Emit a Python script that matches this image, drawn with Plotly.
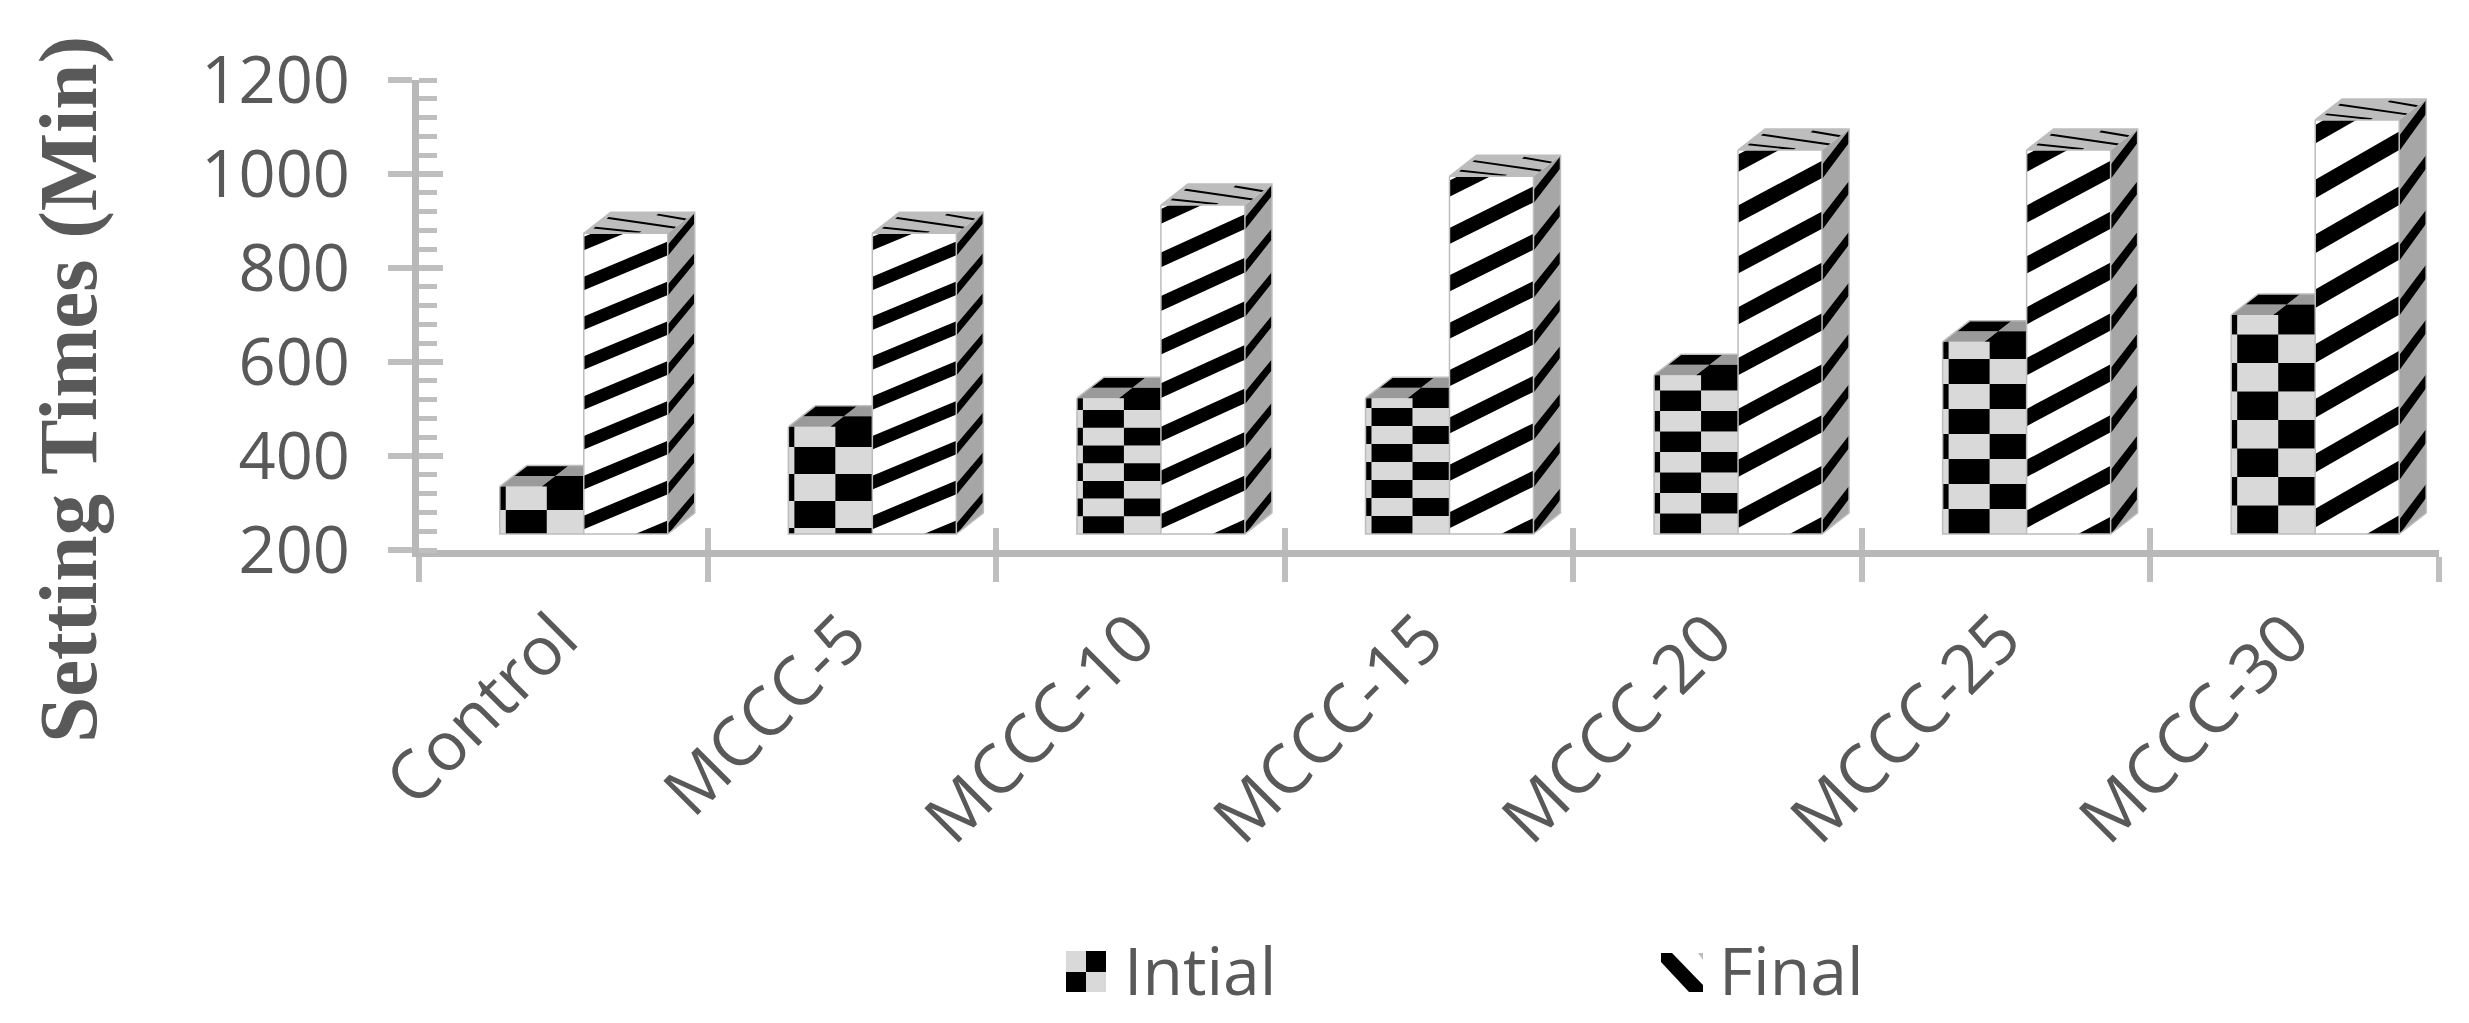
import plotly.graph_objects as go

# ---------- data ----------
categories = ["Control", "MCCC-5", "MCCC-10", "MCCC-15", "MCCC-20", "MCCC-25", "MCCC-30"]
initial_time = [335, 462, 523, 523, 572, 643, 700]
final_time = [874, 874, 934, 995, 1051, 1051, 1115]
y_ticks = [200, 400, 600, 800, 1000, 1200]

# ---------- geometry / style ----------
W, H = 2469, 1023
L, R, T, B = 419, 2439, 80, 550
PX_CAT = (R - L) / 7
PX_VAL = (B - T) / 1000
FLOOR = 200 + (B - 534) / PX_VAL       # bars stand in front of the axis wall
BAR_W = 84 / PX_CAT
SHIFT = 0.071
DX = 27 / PX_CAT
DY = 21 / PX_VAL
ROW_PX = [24, 27, 17.7, 18, 20.5, 25, 28.5]  # checker row heights per bar
FIRST_ROW_PX = [None, 6, None, None, None, None, None]  # a clipped lowest row
GREY_AX = "#bfbfbf"
TXT = "#595959"
LIGHT = "#d9d9d9"


def clip(poly, idx, lim, keep_below=True):
    out = []
    n = len(poly)
    for j in range(n):
        a, b = poly[j], poly[(j + 1) % n]
        ina = a[idx] <= lim if keep_below else a[idx] >= lim
        inb = b[idx] <= lim if keep_below else b[idx] >= lim
        if ina:
            out.append(a)
        if ina != inb:
            t = (lim - a[idx]) / (b[idx] - a[idx])
            out.append((a[0] + t * (b[0] - a[0]), a[1] + t * (b[1] - a[1])))
    return out


class Bag:
    def __init__(self):
        self.x, self.y = [], []

    def add(self, poly):
        if len(poly) < 3:
            return
        for p in poly + [poly[0]]:
            self.x.append(p[0])
            self.y.append(p[1])
        self.x.append(None)
        self.y.append(None)


black, light, topgrey, sidegrey, finaltop = Bag(), Bag(), Bag(), Bag(), Bag()
edge_x, edge_y = [], []


def edge(pts):
    for p in pts:
        edge_x.append(p[0])
        edge_y.append(p[1])
    edge_x.append(None)
    edge_y.append(None)


N_STRIPES = 7.55
RISE = 0.88
THICK = 0.34

init_x = [i + SHIFT - BAR_W / 2 for i in range(len(categories))]
final_x = [i + SHIFT + BAR_W / 2 for i in range(len(categories))]

for i, (vi, vf) in enumerate(zip(initial_time, final_time)):
    # Initial bar: checker front
    x0 = i + SHIFT - BAR_W
    x1 = i + SHIFT
    cols = [0, 6 / 84, 47 / 84, 1]
    rh = ROW_PX[i] / PX_VAL
    lo = FLOOR
    r = 0
    if FIRST_ROW_PX[i] is not None:
        r = -1
    while lo < vi:
        step = FIRST_ROW_PX[i] / PX_VAL if r == -1 else rh
        hi = min(vi, lo + step)
        for c in range(3):
            a = x0 + cols[c] * BAR_W
            b = x0 + cols[c + 1] * BAR_W
            (black if (r + c) % 2 == 1 else light).add([(a, lo), (b, lo), (b, hi), (a, hi)])
        lo = hi
        r += 1
    # Initial bar: top face (hidden behind the Final bar on the right)
    for cu in range(2):
        for cw in range(2):
            u0, u1 = cu / 2, (cu + 1) / 2
            w0, w1 = cw / 2, (cw + 1) / 2
            pts = [(x0 + u * BAR_W + w * DX, vi + w * DY)
                   for u, w in ((u0, w0), (u1, w0), (u1, w1), (u0, w1))]
            pts = clip(pts, 0, x1)
            (black if (cu + cw) % 2 == 1 else topgrey).add(pts)
    edge([(x0, vi), (x0, FLOOR), (x1, FLOOR)])
    edge([(x0, vi), (x0 + DX, vi + DY), (x1, vi + DY)])

    # Final bar
    xa = x1
    xb = x1 + BAR_W
    per = (vf - FLOOR) / N_STRIPES
    sidegrey.add([(xb, FLOOR), (xb + DX, FLOOR + DY), (xb + DX, vf + DY), (xb, vf)])
    finaltop.add([(xa, vf), (xb, vf), (xb + DX, vf + DY), (xa + DX, vf + DY)])
    for k in range(-2, 10):
        l0 = k + 0.12
        poly = [(0, l0), (1, l0 + RISE), (1, l0 + RISE + THICK), (0, l0 + THICK)]
        poly = clip(clip(poly, 1, N_STRIPES), 1, 0, keep_below=False)
        black.add([(xa + u * BAR_W, FLOOR + v * per) for u, v in poly])
        # side face stripes carry on from the front
        l1 = l0 + RISE - 0.02
        poly = [(0, l1), (1, l1 + 0.30), (1, l1 + 0.55), (0, l1 + 0.28)]
        poly = clip(clip(poly, 1, N_STRIPES), 1, 0, keep_below=False)
        black.add([(xb + w * DX, FLOOR + v * per + w * DY) for w, v in poly])
    for (u0, w0, u1, w1) in ((0.05, 0.69, 1.0, 0.23), (0.59, 0.85, 1.0, 0.62), (0.04, 0.23, 0.66, 0.0)):
        th = 0.08
        pts = [(u0, w0), (u1, w1), (u1, min(1, w1 + th)), (u0, min(1, w0 + th))]
        black.add([(xa + u * BAR_W + w * DX, vf + w * DY) for u, w in pts])
    edge([(xa, vf), (xa, FLOOR), (xb, FLOOR), (xb + DX, FLOOR + DY), (xb + DX, vf + DY), (xa + DX, vf + DY), (xa, vf)])
    edge([(xb, FLOOR), (xb, vf), (xa, vf)])

fig = go.Figure()

# value bars (faces are painted over them, so the fill stays clear)
fig.add_trace(go.Bar(name="Intial", x=init_x, y=[v - FLOOR for v in initial_time], base=FLOOR, width=BAR_W,
                     marker=dict(color="rgba(0,0,0,0)", line=dict(width=0))))
fig.add_trace(go.Bar(name="Final", x=final_x, y=[v - FLOOR for v in final_time], base=FLOOR, width=BAR_W,
                     marker=dict(color="rgba(0,0,0,0)", line=dict(width=0))))


def faces(bag, col):
    fig.add_trace(go.Scatter(x=bag.x, y=bag.y, mode="lines", fill="toself", fillcolor=col,
                             line=dict(width=0, color=col), showlegend=False, hoverinfo="skip"))


faces(light, LIGHT)
faces(topgrey, "#9a9a9a")
faces(sidegrey, "#a6a6a6")
faces(finaltop, "#bdbdbd")
faces(black, "#000000")
fig.add_trace(go.Scatter(x=edge_x, y=edge_y, mode="lines", line=dict(width=1.5, color="#bdbdbd"),
                         showlegend=False, hoverinfo="skip"))
# helper so the overlaid inward-tick axes are drawn
fig.add_trace(go.Scatter(x=[0], y=[200], xaxis="x2", yaxis="y2", mode="markers", marker=dict(opacity=0),
                         showlegend=False, hoverinfo="skip"))

x_range = [-0.5, len(categories) - 0.5]
boundaries = [k - 0.5 for k in range(len(categories) + 1)]


def ppx(px):
    return (px - L) / (R - L)


def ppy(py):
    return (B - py) / (B - T)


def rect(x0, y0, x1, y1, col):
    return dict(type="rect", xref="paper", yref="paper", x0=ppx(x0), x1=ppx(x1), y0=ppy(y0), y1=ppy(y1),
                fillcolor=col, line=dict(width=0))


def pg(points, col):
    d = "M" + " L".join(f"{ppx(a):.5f},{ppy(b):.5f}" for a, b in points) + " Z"
    return dict(type="path", xref="paper", yref="paper", path=d, fillcolor=col, line=dict(width=0))


shapes = [
    rect(1066, 951, 1086, 972, LIGHT), rect(1086, 951, 1106, 972, "#000000"),
    rect(1066, 972, 1086, 992, "#000000"), rect(1086, 972, 1106, 992, LIGHT),
    pg([(1661, 953), (1672, 953), (1703, 985), (1703, 992), (1689, 992), (1661, 962)], "#000000"),
    pg([(1698, 953), (1703, 953), (1703, 960)], "#bdbdbd"),
]

fig.update_layout(
    width=W, height=H, autosize=False,
    paper_bgcolor="white", plot_bgcolor="white",
    margin=dict(l=L, r=W - R, t=T, b=H - B, pad=0, autoexpand=False),
    barmode="overlay",
    font=dict(family="Open Sans", color=TXT),
    shapes=shapes,
    xaxis=dict(
        range=x_range, tickmode="array", tickvals=[k - 0.02 for k in range(len(categories))], ticktext=categories,
        tickangle=-45, tickfont=dict(size=68, color=TXT, family="Open Sans"), ticks="", showgrid=False, zeroline=False,
        showline=True, linecolor="#b8b8b8", linewidth=7, ticklabelstandoff=14,
        minor=dict(tickmode="array", tickvals=boundaries, ticks="outside", ticklen=25, tickwidth=6,
                   tickcolor=GREY_AX, showgrid=False),
    ),
    xaxis2=dict(
        range=x_range, overlaying="x", anchor="y", side="bottom", tickmode="array", tickvals=boundaries,
        showticklabels=False, ticks="inside", ticklen=22, tickwidth=6, tickcolor=GREY_AX, showgrid=False,
        zeroline=False, showline=False,
    ),
    yaxis=dict(
        range=[200, 1200], tickmode="array", tickvals=y_ticks, tickfont=dict(size=65, color=TXT, family="Open Sans"),
        ticks="outside", ticklen=24, tickwidth=6, tickcolor=GREY_AX, showgrid=False, zeroline=False,
        showline=True, linecolor="#b8b8b8", linewidth=7, ticklabelstandoff=25,
        minor=dict(dtick=40, ticks="inside", ticklen=18, tickwidth=5, tickcolor=GREY_AX, showgrid=False),
    ),
    yaxis2=dict(
        range=[200, 1200], overlaying="y", anchor="x", side="left", tickmode="array", tickvals=y_ticks,
        showticklabels=False, ticks="inside", ticklen=24, tickwidth=6, tickcolor=GREY_AX, showgrid=False,
        zeroline=False, showline=False,
    ),
    legend=dict(orientation="h", x=ppx(1084), xanchor="left", y=ppy(920), yanchor="top",
                font=dict(size=66, color=TXT, family="Open Sans"), entrywidth=550, entrywidthmode="pixels",
                bgcolor="rgba(0,0,0,0)", itemclick=False, itemdoubleclick=False),
    annotations=[dict(text="<b>Setting Times (Min)</b>", xref="paper", yref="paper", x=ppx(68), y=ppy(390),
                      xanchor="center", yanchor="middle", textangle=-90, showarrow=False,
                      font=dict(family="Liberation Serif", size=83, color=TXT))],
)

fig.write_html("out.html", config=dict(displayModeBar=False),
               post_script="document.body.style.margin='0';document.body.style.overflow='hidden';")
